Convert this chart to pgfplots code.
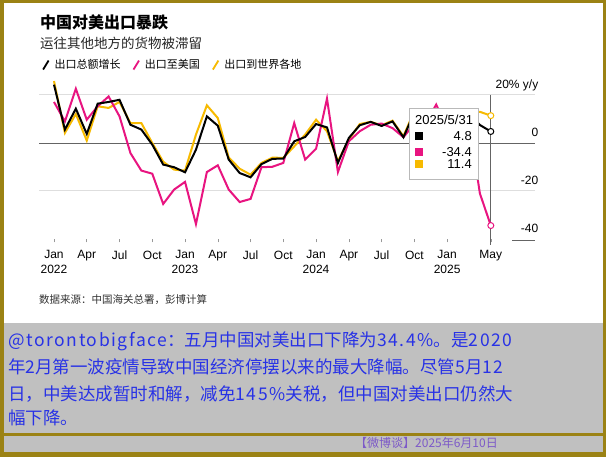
\documentclass[border=0pt]{standalone}
\usepackage{pgfplots}
\pgfplotsset{compat=1.18}
\usepackage{fontspec}
\setmainfont{Liberation Sans}
\newfontfamily\cjk{Noto Sans CJK SC}
\newfontfamily\cjkls[LetterSpace=9]{Noto Sans CJK SC}
\newcommand{\LS}[1]{{\cjkls #1}}
\definecolor{olivebd}{RGB}{155,130,20}
\definecolor{boxgray}{RGB}{192,192,192}
\definecolor{txtblue}{RGB}{40,50,230}
\definecolor{ftpurple}{RGB}{125,90,200}
\definecolor{bpink}{RGB}{232,20,128}
\definecolor{byellow}{RGB}{247,186,0}
\definecolor{gridlt}{RGB}{222,222,222}
\definecolor{griddk}{RGB}{100,100,100}

\pgfplotstableread{
m black pink yellow
0 24.3 17.1 25.8
1 5.6 9.0 4.2
2 14.3 22.6 12.1
3 3.8 9.7 1.0
4 16.4 15.3 15.3
5 17.1 19.4 14.6
6 18.0 11.1 17.1
7 7.6 -4.2 8.3
8 5.6 -11.5 8.3
9 -0.7 -12.8 0.0
10 -9.0 -25.4 -7.8
11 -10.1 -19.4 -11.1
12 -12.2 -16.2 -11.5
13 -2.8 -33.8 3.5
14 11.1 -12.1 15.7
15 7.2 -9.3 10.4
16 -6.9 -19.4 -6.0
17 -12.5 -24.6 -10.7
18 -14.3 -23.3 -13.2
19 -8.8 -10.1 -8.3
20 -6.6 -9.9 -6.1
21 -6.5 -8.3 -6.2
22 0.7 8.3 -1.4
23 2.5 -6.9 3.5
24 7.9 -2.4 9.7
25 6.5 18.5 4.9
26 -8.3 -12.1 -7.6
27 2.1 0.7 1.4
28 7.4 4.9 7.9
29 8.8 7.6 8.8
30 7.1 8.1 7.4
31 9.0 6.2 9.3
32 2.4 2.4 2.8
33 12.7 8.1 13.5
34 6.7 8.0 6.5
35 10.7 16.0 9.5
36 5.5 6.0 5.4
37 -1.5 -2.0 -1.4
38 12.4 9.1 13.0
39 7.5 -21.0 13.0
40 4.8 -34.4 11.4
}\datatable

\begin{document}
\begin{tikzpicture}
\begin{scope}[x=1pt,y=1pt]
\fill[olivebd] (0,0) rectangle (606,457);
\fill[white] (3.5,134.3) rectangle (602.5,454);
\fill[boxgray] (3.5,23.5) rectangle (602.5,134.3);
\fill[boxgray] (3.5,4.5) rectangle (602.5,20.5);
\path[use as bounding box] (0,0) rectangle (606,457);
% grid lines
\draw[gridlt, line width=1pt] (39,362) -- (535,362);
\draw[gridlt, line width=1pt] (39,266) -- (535,266);
\draw[griddk, line width=0.8pt] (39,314) -- (535,314);
\draw[griddk, line width=0.8pt] (512,217) -- (535,217);
\draw[griddk, line width=0.8pt] (490.8,362) -- (490.8,212);
% titles
\node[anchor=base west, inner sep=0pt, font=\cjk\bfseries\fontsize{16}{18}\selectfont] at (40,428) {中国对美出口暴跌};
\node[anchor=base west, inner sep=0pt, text=black!85, font=\cjk\fontsize{13.5}{16}\selectfont] at (40,408) {运往其他地方的货物被滞留};
\node[anchor=base west, inner sep=0pt, text=black!80, font=\cjk\fontsize{10.5}{12}\selectfont] at (39,153) {数据来源：中国海关总署，彭博计算};
\end{scope}

\begin{axis}[
  at={(39pt,218pt)}, anchor=south west, scale only axis,
  width=496pt, height=156pt,
  xmin=-1.3736, xmax=44.048, ymin=-40, ymax=25,
  clip=false,
  axis line style={draw=none},
  xtick={0,3,6,9,12,15,18,21,24,27,30,33,36,40},
  xticklabels={{Jan\\2022},Apr,Jul,Oct,{Jan\\2023},Apr,Jul,Oct,{Jan\\2024},Apr,Jul,Oct,{Jan\\2025},May},
  xtick pos=bottom, tick align=outside, major tick length=3.5pt,
  xtick style={draw=gray!80, line width=0.6pt},
  xticklabel style={align=center, font=\fontsize{12}{14.3}\selectfont, inner sep=0pt, yshift=-8pt},
  ytick={-40,-20,0,20},
  yticklabels={-40,-20,0,{20\% y/y}},
  ytick pos=right, yticklabel pos=right,
  ytick style={draw=none},
  yticklabel style={anchor=base east, inner sep=0pt, yshift=6pt, font=\fontsize{12}{14}\selectfont},
  legend style={draw=none, fill=none, at={(axis description cs:0,1.115)}, anchor=west,
    legend columns=3, font=\cjk\fontsize{11}{13}\selectfont,
    /tikz/every even column/.append style={column sep=10pt}},
  legend image code/.code={\draw[#1,mark=none,line width=1.8pt] (0pt,-4.5pt) -- (5.5pt,4.5pt); \path[draw=none,fill=none] (0pt,0pt) -- (9.5pt,0pt);},
  reverse legend,
]
\addplot[byellow, line width=2pt, mark=none] table[x=m, y=yellow] {\datatable};
\addlegendentry{出口到世界各地}
\addplot[bpink, line width=2pt, mark=none] table[x=m, y=pink] {\datatable};
\addlegendentry{出口至美国}
\addplot[black, line width=2pt, mark=none] table[x=m, y=black] {\datatable};
\addlegendentry{出口总额增长}
\addplot[forget plot, only marks, mark=*, mark size=3pt, mark options={fill=white, draw=byellow, line width=1pt}] coordinates {(40,11.4)};
\addplot[forget plot, only marks, mark=*, mark size=3pt, mark options={fill=white, draw=bpink, line width=1pt}] coordinates {(40,-34.4)};
\addplot[forget plot, only marks, mark=*, mark size=3pt, mark options={fill=white, draw=black, line width=1pt}] coordinates {(40,4.8)};
\end{axis}

\begin{scope}[x=1pt,y=1pt]
% tooltip
\draw[fill=white, draw=gray!55, line width=0.8pt] (409,349) rectangle (478,278);
\node[anchor=base west, inner sep=0pt, font=\fontsize{13}{15}\selectfont] at (415,332.3) {2025/5/31};
\fill[black] (415,317) rectangle (423,325);
\fill[bpink] (415,301.3) rectangle (423,309.3);
\fill[byellow] (415,288.7) rectangle (423,296.7);
\node[anchor=base east, inner sep=0pt, font=\fontsize{13}{15}\selectfont] at (472,316.3) {4.8};
\node[anchor=base east, inner sep=0pt, font=\fontsize{13}{15}\selectfont] at (472,300.6) {-34.4};
\node[anchor=base east, inner sep=0pt, font=\fontsize{13}{15}\selectfont] at (472,288) {11.4};
% bottom text
\begin{scope}[every node/.style={anchor=base west, inner sep=0pt, text=txtblue, font=\cjk\fontsize{17.5}{20}\selectfont}]
\node at (8,110.5) {\LS{@torontobigface}：五月中国对美出口下降为\LS{34.4\%}。是\LS{2020}};
\node at (8,83.5) {年\LS{2}月第一波疫情导致中国经济停摆以来的最大降幅。尽管\LS{5}月\LS{12}};
\node at (8,56.5) {日，中美达成暂时和解，减免\LS{145\%}关税，但中国对美出口仍然大};
\node at (8,32.5) {幅下降。};
\end{scope}
\node[anchor=base east, inner sep=0pt, text=ftpurple, font=\cjk\fontsize{12}{14}\selectfont] at (498,9.5) {【微博谈】2025年6月10日};
\end{scope}
\end{tikzpicture}
\end{document}
